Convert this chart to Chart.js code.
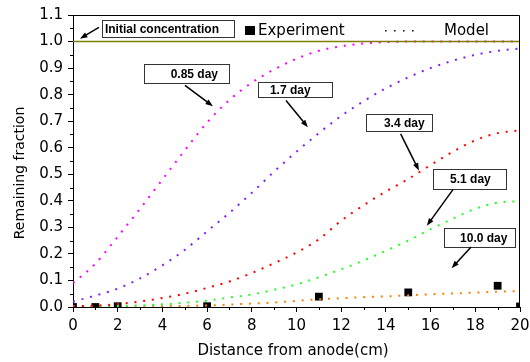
<!DOCTYPE html>
<html>
<head>
<meta charset="utf-8">
<script src="https://cdn.jsdelivr.net/npm/chart.js@4.4.1/dist/chart.umd.min.js"></script>
<style>
  html, body { margin: 0; padding: 0; background: #fff; }
</style>
</head>
<body>
<canvas id="myChart" width="530" height="362"></canvas>
<script>
// distance from anode (cm)
const distance = [0, 1, 2, 3, 4, 5, 6, 7, 8, 9, 10, 11, 12, 13, 14, 15, 16, 17, 18, 19, 20];

// model curves, remaining fraction
const day085 = [0.09, 0.163, 0.265, 0.37, 0.48, 0.59, 0.695, 0.78, 0.845, 0.895, 0.935, 0.965, 0.982, 0.993, 0.998, 1.0, 1.0, 1.0, 1.0, 1.0, 1.0];
const day17 = [0.02, 0.043, 0.069, 0.108, 0.157, 0.215, 0.285, 0.355, 0.43, 0.51, 0.585, 0.655, 0.72, 0.775, 0.824, 0.865, 0.9, 0.928, 0.95, 0.965, 0.974];
const day34 = [0.003, 0.005, 0.011, 0.021, 0.034, 0.05, 0.072, 0.096, 0.128, 0.165, 0.205, 0.255, 0.325, 0.383, 0.435, 0.482, 0.535, 0.585, 0.628, 0.655, 0.665];
const day51 = [0.002, 0.003, 0.004, 0.006, 0.01, 0.016, 0.024, 0.036, 0.047, 0.065, 0.085, 0.112, 0.142, 0.175, 0.212, 0.25, 0.293, 0.333, 0.37, 0.393, 0.398];
const day100 = [0.001, 0.001, 0.002, 0.002, 0.003, 0.004, 0.006, 0.009, 0.013, 0.017, 0.023, 0.029, 0.033, 0.037, 0.04, 0.044, 0.048, 0.051, 0.054, 0.058, 0.06];

// measured points
const expDistance = [0, 1, 2, 6, 11, 15, 19, 20];
const expFraction = [0.0, 0.0, 0.003, 0.003, 0.039, 0.055, 0.08, 0.002];

// initial concentration line
const initDistance = [0, 20];
const initFraction = [1.0, 1.0];

// tick labels
const xTickLabels = ['0', '2', '4', '6', '8', '10', '12', '14', '16', '18', '20'];
const yTickLabels = ['0.0', '0.1', '0.2', '0.3', '0.4', '0.5', '0.6', '0.7', '0.8', '0.9', '1.0', '1.1'];

const curveLabels = ['0.85 day', '1.7 day', '3.4 day', '5.1 day', '10.0 day'];

// label boxes, in data units: box [x1, yTop, x2, yBottom], text start, arrow from -> to
const notes = [
  { text: 'Initial concentration', box: [1.28, 1.083, 7.2, 1.018], tx: 1.43, from: [1.16, 1.053], to: [0.31, 1.011] },
  { text: curveLabels[0], box: [3.18, 0.917, 6.98, 0.845], tx: 4.37, from: [5.01, 0.835], to: [6.26, 0.756] },
  { text: curveLabels[1], box: [8.28, 0.849, 11.59, 0.792], tx: 8.81, from: [9.53, 0.778], to: [10.51, 0.677] },
  { text: curveLabels[2], box: [13.1, 0.728, 16.05, 0.664], tx: 13.91, from: [14.66, 0.652], to: [15.48, 0.514] },
  { text: curveLabels[3], box: [16.09, 0.521, 19.37, 0.445], tx: 16.87, from: [17.0, 0.442], to: [15.83, 0.306] },
  { text: curveLabels[4], box: [16.6, 0.298, 19.78, 0.226], tx: 17.32, from: [17.81, 0.226], to: [16.94, 0.146] },
];

function toPoints(xs, ys) {
  return xs.map((x, i) => ({ x: x, y: ys[i] }));
}

function modelSet(values, color) {
  return {
    data: toPoints(distance, values),
    showLine: true,
    borderColor: color,
    borderWidth: 2,
    borderDash: [2, 6.8],
    cubicInterpolationMode: 'monotone',
    pointRadius: 0,
    fill: false,
  };
}

function arrow(ctx, x1, y1, x2, y2) {
  const ang = Math.atan2(y2 - y1, x2 - x1);
  const head = 8;
  ctx.beginPath();
  ctx.moveTo(x1, y1);
  ctx.lineTo(x2 - Math.cos(ang) * head * 0.8, y2 - Math.sin(ang) * head * 0.8);
  ctx.stroke();
  ctx.beginPath();
  ctx.moveTo(x2, y2);
  ctx.lineTo(x2 - head * Math.cos(ang - 0.35), y2 - head * Math.sin(ang - 0.35));
  ctx.lineTo(x2 - head * Math.cos(ang + 0.35), y2 - head * Math.sin(ang + 0.35));
  ctx.closePath();
  ctx.fill();
}

const decorPlugin = {
  id: 'decor',
  afterDraw(chart) {
    const ctx = chart.ctx;
    const xs = chart.scales.x;
    const ys = chart.scales.y;
    const area = chart.chartArea;
    ctx.save();

    // frame top and right
    ctx.strokeStyle = '#000';
    ctx.lineWidth = 1;
    ctx.beginPath();
    ctx.moveTo(area.left, Math.round(area.top) + 0.5);
    ctx.lineTo(Math.round(area.right) - 0.5, Math.round(area.top) + 0.5);
    ctx.lineTo(Math.round(area.right) - 0.5, area.bottom);
    ctx.stroke();

    // minor ticks
    ctx.beginPath();
    for (let v = 1; v < 20; v += 2) {
      const px = Math.round(xs.getPixelForValue(v)) + 0.5;
      ctx.moveTo(px, area.bottom);
      ctx.lineTo(px, area.bottom + 3);
    }
    for (let i = 0; i < 11; i++) {
      const py = Math.round(ys.getPixelForValue(0.05 + i * 0.1)) + 0.5;
      ctx.moveTo(area.left, py);
      ctx.lineTo(area.left - 3, py);
    }
    ctx.stroke();

    // axis titles
    ctx.fillStyle = '#000';
    ctx.font = '15px "DejaVu Sans"';
    ctx.textAlign = 'center';
    ctx.textBaseline = 'middle';
    ctx.fillText('Distance from anode(cm)', 293, 351);
    ctx.save();
    ctx.translate(20, 173);
    ctx.rotate(-Math.PI / 2);
    ctx.font = '14px "DejaVu Sans"';
    ctx.fillText('Remaining fraction', 0, 0);
    ctx.restore();

    // legend
    ctx.fillRect(245, 26, 10, 9);
    ctx.font = '15px "DejaVu Sans"';
    ctx.textAlign = 'left';
    ctx.fillText('Experiment', 258, 31);
    ctx.fillStyle = '#222';
    for (let i = 0; i < 4; i++) {
      ctx.fillRect(385 + i * 9, 30, 1.6, 1.6);
    }
    ctx.fillStyle = '#000';
    ctx.fillText('Model', 444, 31);

    // label boxes with arrows
    ctx.font = 'bold 12px "Liberation Sans"';
    notes.forEach((n) => {
      const x1 = Math.round(xs.getPixelForValue(n.box[0])) + 0.5;
      const y1 = Math.round(ys.getPixelForValue(n.box[1])) + 0.5;
      const x2 = Math.round(xs.getPixelForValue(n.box[2])) + 0.5;
      const y2 = Math.round(ys.getPixelForValue(n.box[3])) + 0.5;
      ctx.fillStyle = '#fff';
      ctx.fillRect(x1, y1, x2 - x1, y2 - y1);
      ctx.strokeStyle = '#333';
      ctx.lineWidth = 1;
      ctx.strokeRect(x1, y1, x2 - x1, y2 - y1);
      ctx.fillStyle = '#000';
      ctx.fillText(n.text, xs.getPixelForValue(n.tx), (y1 + y2) / 2 + 0.5);
      ctx.strokeStyle = '#000';
      ctx.lineWidth = 1.5;
      arrow(ctx,
        xs.getPixelForValue(n.from[0]), ys.getPixelForValue(n.from[1]),
        xs.getPixelForValue(n.to[0]), ys.getPixelForValue(n.to[1]));
    });

    ctx.restore();
  },
};

Chart.defaults.font.family = '"DejaVu Sans"';
Chart.defaults.font.size = 15;
Chart.defaults.color = '#000';

const ctx = document.getElementById('myChart').getContext('2d');
new Chart(ctx, {
  type: 'scatter',
  data: {
    datasets: [
      {
        data: toPoints(initDistance, initFraction),
        showLine: true,
        borderColor: '#808000',
        borderWidth: 1.5,
        pointRadius: 0,
      },
      modelSet(day085, '#ff00ff'),
      modelSet(day17, '#8020ff'),
      modelSet(day34, '#ff0000'),
      modelSet(day51, '#22ff22'),
      modelSet(day100, '#ff8000'),
      {
        data: toPoints(expDistance, expFraction),
        pointStyle: 'rect',
        pointRadius: 5.5,
        pointHoverRadius: 5.5,
        backgroundColor: '#000',
        borderWidth: 0,
        clip: 0,
      },
    ],
  },
  options: {
    responsive: false,
    animation: false,
    devicePixelRatio: 1,
    layout: { padding: { top: 15, right: 10, left: 0, bottom: 0 } },
    plugins: {
      legend: { display: false },
      tooltip: { enabled: false },
    },
    scales: {
      x: {
        type: 'linear',
        min: 0,
        max: 20,
        afterFit: (scale) => {
          scale.height = 55;
          scale.paddingLeft = 0;
          scale.paddingRight = 0;
        },
        grid: { drawOnChartArea: false, drawTicks: true, tickLength: 5, tickColor: '#000', tickWidth: 1 },
        border: { color: '#000', width: 1 },
        ticks: {
          stepSize: 2,
          padding: 5,
          maxRotation: 0,
          autoSkip: false,
          callback: (val, idx) => xTickLabels[idx],
        },
      },
      y: {
        type: 'linear',
        min: 0,
        max: 1.1,
        afterFit: (scale) => {
          scale.width = 73;
          scale.paddingTop = 0;
          scale.paddingBottom = 0;
        },
        grid: { drawOnChartArea: false, drawTicks: true, tickLength: 5, tickColor: '#000', tickWidth: 1 },
        border: { color: '#000', width: 1 },
        ticks: {
          stepSize: 0.1,
          padding: 5,
          autoSkip: false,
          callback: (val, idx) => yTickLabels[idx],
        },
      },
    },
  },
  plugins: [decorPlugin],
});
</script>
</body>
</html>
